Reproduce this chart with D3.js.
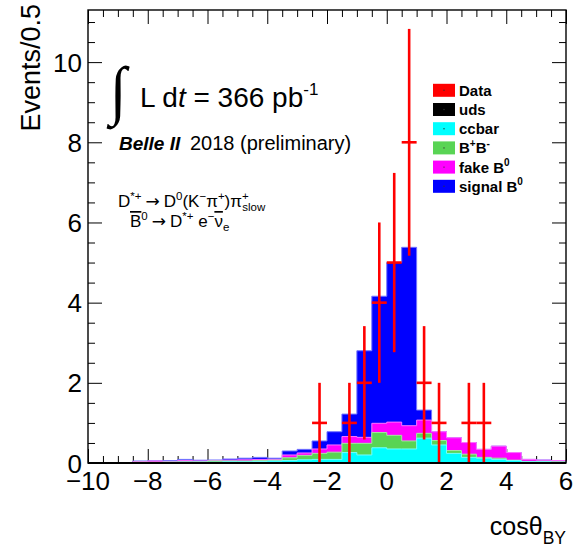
<!DOCTYPE html>
<html>
<head>
<meta charset="utf-8">
<script src="https://cdn.jsdelivr.net/npm/d3@7"></script>
<style>
  html, body { margin: 0; padding: 0; background: #ffffff; }
  svg { display: block; font-family: "Liberation Sans", Arial, Helvetica, sans-serif; }
</style>
</head>
<body>
<svg id="chart" width="574" height="547"></svg>
<script>
// ---- Histogram binning: lower edges of the 0.5-wide bins of cos(theta_BY) ----
const binLow = [-10, -9.5, -9, -8.5, -8, -7.5, -7, -6.5, -6, -5.5, -5, -4.5, -4, -3.5, -3, -2.5,
                -2, -1.5, -1, -0.5, 0, 0.5, 1, 1.5, 2, 2.5, 3, 3.5, 4, 4.5, 5, 5.5];
const binWidth = 0.5;

// ---- MC components (events per bin, stacked bottom to top) ----
const uds     = [0, 0, 0, 0, 0, 0, 0, 0, 0, 0, 0, 0, 0, 0, 0, 0,
                 0, 0, 0, 0, 0, 0, 0, 0, 0, 0, 0, 0, 0, 0, 0, 0];
const ccbar   = [0, 0, 0, 0.01, 0.01, 0.015, 0.02, 0.02, 0.02, 0.03, 0.03, 0.04, 0.05, 0.06, 0.08, 0.09,
                 0.09, 0.26, 0.20, 0.38, 0.35, 0.35, 0.62, 0.45, 0.24, 0.14, 0.12, 0.09, 0.06, 0.03, 0.03, 0.02];
const bpbm    = [0, 0, 0, 0.01, 0.01, 0.01, 0.01, 0.01, 0.03, 0.02, 0.02, 0.02, 0.02, 0.07, 0.11, 0.15,
                 0.18, 0.23, 0.29, 0.38, 0.34, 0.20, 0.12, 0.11, 0.07, 0.08, 0.02, 0.03, 0.01, 0.01, 0.01, 0.01];
const fakeB0  = [0, 0, 0, 0.015, 0.03, 0.015, 0.03, 0.02, 0.01, 0.02, 0.03, 0.03, 0.02, 0.07, 0.06, 0.11,
                 0.18, 0.17, 0.15, 0.23, 0.33, 0.38, 0.33, 0.22, 0.32, 0.29, 0.20, 0.30, 0.19, 0.05, 0.03, 0.03];
const signalB0 = [0, 0, 0, 0.015, 0.005, 0.02, 0.03, 0.02, 0.015, 0.03, 0.04, 0.05, 0.03, 0.10, 0.09, 0.20,
                  0.33, 0.56, 2.16, 3.17, 3.98, 4.45, 0.25, 0, 0, 0, 0, 0, 0, 0, 0.005, 0];

// ---- Data: observed counts per bin ----
const dataCounts = [0, 0, 0, 0, 0, 0, 0, 0, 0, 0, 0, 0, 0, 0, 0, 1,
                    0, 1, 2, 4, 5, 8, 2, 1, 0, 1, 1, 0, 0, 0, 0, 0];

// ---- Axis ticks and labels ----
const xMajor = [-10, -8, -6, -4, -2, 0, 2, 4, 6];
const xTickLabels = ["\u221210", "\u22128", "\u22126", "\u22124", "\u22122", "0", "2", "4", "6"];
const yMajor = [0, 2, 4, 6, 8, 10];
const yTickLabels = ["0", "2", "4", "6", "8", "10"];

// ---- Legend ----
const legendNames = ["Data", "uds", "ccbar", "B+B-", "fake B0", "signal B0"];
const legendColors = ["#ff0000", "#000000", "#00ffff", "#59d454", "#ff00ff", "#0000ff"];

const seriesKeys = ["uds", "ccbar", "bpbm", "fakeB0", "signalB0"];
const seriesColors = {uds: "#000000", ccbar: "#00ffff", bpbm: "#59d454", fakeB0: "#ff00ff", signalB0: "#0000ff"};

// ---- Frame geometry ----
const W = 574, H = 547;
const frameL = 88, frameR = 566, frameT = 10, frameB = 463;

const svg = d3.select("#chart");
svg.append("rect").attr("width", W).attr("height", H).attr("fill", "#ffffff");

const x = d3.scaleLinear().domain([-10, 6]).range([frameL, frameR]);
const y = d3.scaleLinear().domain([0, 11.3]).range([frameB, frameT]);

const xMinor = d3.range(-10, 6.001, 0.5).filter(v => !xMajor.includes(v));
const yMinor = d3.range(0, 11.3, 0.5).filter(v => !yMajor.includes(v));

// ---- Ticks (drawn first so the histograms cover them) ----
const tickG = svg.append("g").attr("class", "ticks");
function drawAxis(axis, tx, ty) {
  const g = tickG.append("g").attr("transform", `translate(${tx},${ty})`).call(axis);
  g.select(".domain").remove();
  g.selectAll("line").attr("stroke", "#000").attr("stroke-width", 1);
  g.selectAll("text").remove();
}
drawAxis(d3.axisBottom(x).tickValues(xMajor).tickSize(-14).tickFormat(""), 0, frameB);
drawAxis(d3.axisBottom(x).tickValues(xMinor).tickSize(-7).tickFormat(""), 0, frameB);
drawAxis(d3.axisTop(x).tickValues(xMajor).tickSize(-14).tickFormat(""), 0, frameT);
drawAxis(d3.axisTop(x).tickValues(xMinor).tickSize(-7).tickFormat(""), 0, frameT);
drawAxis(d3.axisLeft(y).tickValues(yMajor).tickSize(-14).tickFormat(""), frameL, 0);
drawAxis(d3.axisLeft(y).tickValues(yMinor).tickSize(-7).tickFormat(""), frameL, 0);
drawAxis(d3.axisRight(y).tickValues(yMajor).tickSize(-14).tickFormat(""), frameR, 0);
drawAxis(d3.axisRight(y).tickValues(yMinor).tickSize(-7).tickFormat(""), frameR, 0);

// ---- Stacked MC histograms ----
const rows = binLow.map((lo, i) => ({
  lo, uds: uds[i], ccbar: ccbar[i], bpbm: bpbm[i], fakeB0: fakeB0[i], signalB0: signalB0[i]
}));
// closing point so the last step reaches the upper edge of the final bin
rows.push(Object.assign({}, rows[rows.length - 1], {lo: binLow[binLow.length - 1] + binWidth}));

const stacked = d3.stack().keys(seriesKeys)(rows);

// Each component is painted as its cumulative histogram from zero, top component first.
const area = d3.area()
  .x(d => x(d.data.lo))
  .y0(y(0))
  .y1(d => y(d[1]))
  .curve(d3.curveStepAfter);

const histG = svg.append("g").attr("class", "stack");
stacked.slice().reverse().forEach(s => {
  const c = seriesColors[s.key];
  histG.append("path")
    .datum(s)
    .attr("d", area)
    .attr("fill", c)
    .attr("stroke", d3.interpolateRgb(c, "#ffffff")(0.45))
    .attr("stroke-width", 1);
});

// ---- Data points with sqrt(N) error bars ----
const dataPts = binLow.map((lo, i) => ({lo, n: dataCounts[i]})).filter(d => d.n > 0);
const dataG = svg.append("g").attr("class", "data")
  .attr("stroke", "#ff0000").attr("stroke-width", 2.6);
dataG.selectAll("line.v").data(dataPts).join("line").attr("class", "v")
  .attr("x1", d => x(d.lo + binWidth / 2)).attr("x2", d => x(d.lo + binWidth / 2))
  .attr("y1", d => y(d.n - Math.sqrt(d.n))).attr("y2", d => y(d.n + Math.sqrt(d.n)));
dataG.selectAll("line.h").data(dataPts).join("line").attr("class", "h")
  .attr("x1", d => x(d.lo)).attr("x2", d => x(d.lo + binWidth))
  .attr("y1", d => y(d.n)).attr("y2", d => y(d.n));

// ---- Frame ----
svg.append("rect")
  .attr("x", frameL).attr("y", frameT).attr("width", frameR - frameL).attr("height", frameB - frameT)
  .attr("fill", "none").attr("stroke", "#000").attr("stroke-width", 1.4);
svg.append("line").attr("x1", frameL).attr("x2", frameR).attr("y1", frameB).attr("y2", frameB)
  .attr("stroke", "#000").attr("stroke-width", 2.2);

// ---- Tick labels ----
svg.append("g").selectAll("text").data(xMajor).join("text")
  .attr("x", d => x(d)).attr("y", 490)
  .attr("text-anchor", "middle").attr("font-size", 26)
  .text((d, i) => xTickLabels[i]);
svg.append("g").selectAll("text").data(yMajor).join("text")
  .attr("x", 82).attr("y", d => y(d) + 9.5)
  .attr("text-anchor", "end").attr("font-size", 26)
  .text((d, i) => yTickLabels[i]);

// ---- Axis titles ----
svg.append("text")
  .attr("transform", "translate(40,4) rotate(-90)")
  .attr("text-anchor", "end").attr("font-size", 27)
  .text("Events/0.5");

const xt = svg.append("text").attr("x", 566).attr("y", 535)
  .attr("text-anchor", "end").attr("font-size", 25);
xt.append("tspan").text("cos\u03b8");
xt.append("tspan").attr("font-size", 17.5).attr("dy", 9).text("BY");

// ---- Luminosity and experiment labels ----
svg.append("text")
  .attr("transform", "translate(110,112) scale(0.95,1.02)")
  .attr("font-family", "Liberation Serif, serif")
  .attr("font-size", 64).text("\u222b");
const lum = svg.append("text").attr("x", 140).attr("y", 107).attr("font-size", 28);
lum.append("tspan").text("L d");
lum.append("tspan").attr("font-style", "italic").text("t");
lum.append("tspan").text(" = 366 pb");
lum.append("tspan").attr("font-size", 17).attr("dy", -12).text("-1");

svg.append("text").attr("x", 119).attr("y", 150).attr("font-size", 19)
  .attr("font-weight", "bold").attr("font-style", "italic").text("Belle II");
svg.append("text").attr("x", 190).attr("y", 150).attr("font-size", 20)
  .text("2018 (preliminary)");

// ---- Decay chain ----
const arrowFont = "DejaVu Sans, sans-serif";
const l1 = svg.append("text").attr("x", 118).attr("y", 207).attr("font-size", 17);
l1.append("tspan").text("D");
l1.append("tspan").attr("font-size", 11.5).attr("dy", -7).text("*+");
l1.append("tspan").attr("dy", 7).attr("dx", 4).attr("font-family", arrowFont).text("\u2192");
l1.append("tspan").attr("dx", 4).text("D");
l1.append("tspan").attr("font-size", 11.5).attr("dy", -7).text("0");
l1.append("tspan").attr("dy", 7).text("(K");
l1.append("tspan").attr("font-size", 11.5).attr("dy", -7).text("\u2212");
l1.append("tspan").attr("dy", 7).text("\u03c0");
l1.append("tspan").attr("font-size", 11.5).attr("dy", -7).text("+");
l1.append("tspan").attr("dy", 7).text(")\u03c0");
l1.append("tspan").attr("font-size", 11.5).attr("dy", -7).text("+");
l1.append("tspan").attr("font-size", 11.5).attr("dx", -6.5).attr("dy", 11).text("slow");

const l2 = svg.append("text").attr("x", 130).attr("y", 227).attr("font-size", 17);
l2.append("tspan").attr("text-decoration", "overline").text("B");
l2.append("tspan").attr("font-size", 11.5).attr("dy", -7).text("0");
l2.append("tspan").attr("dy", 7).attr("dx", 4).attr("font-family", arrowFont).text("\u2192");
l2.append("tspan").attr("dx", 4).text("D");
l2.append("tspan").attr("font-size", 11.5).attr("dy", -7).text("*+");
l2.append("tspan").attr("dy", 7).text(" e");
l2.append("tspan").attr("font-size", 11.5).attr("dy", -7).text("\u2212");
l2.append("tspan").attr("dy", 7).attr("text-decoration", "overline").text("\u03bd");
l2.append("tspan").attr("font-size", 11.5).attr("dy", 4).text("e");

// ---- Legend ----
const legG = svg.append("g").attr("class", "legend");
const legRow = legendNames.map((name, i) => ({name, color: legendColors[i], cy: 90.3 + i * 19.2}));
legG.selectAll("rect").data(legRow).join("rect")
  .attr("x", 433).attr("y", d => d.cy - 6.5).attr("width", 22).attr("height", 13)
  .attr("fill", d => d.color);
legG.selectAll("circle").data(legRow).join("circle")
  .attr("cx", 444).attr("cy", d => d.cy).attr("r", 0.7).attr("fill", "#333");
legRow.forEach(d => {
  const t = legG.append("text").attr("x", 459).attr("y", d.cy + 5.5)
    .attr("font-size", 15).attr("font-weight", "bold");
  if (d.name === "B+B-") {
    t.append("tspan").text("B");
    t.append("tspan").attr("font-size", 10).attr("dy", -6).text("+");
    t.append("tspan").attr("dy", 6).text("B");
    t.append("tspan").attr("font-size", 10).attr("dy", -6).text("-");
  } else if (d.name.endsWith("B0")) {
    t.append("tspan").text(d.name.slice(0, -1));
    t.append("tspan").attr("font-size", 10).attr("dy", -7).text("0");
  } else {
    t.text(d.name);
  }
});
</script>
</body>
</html>
